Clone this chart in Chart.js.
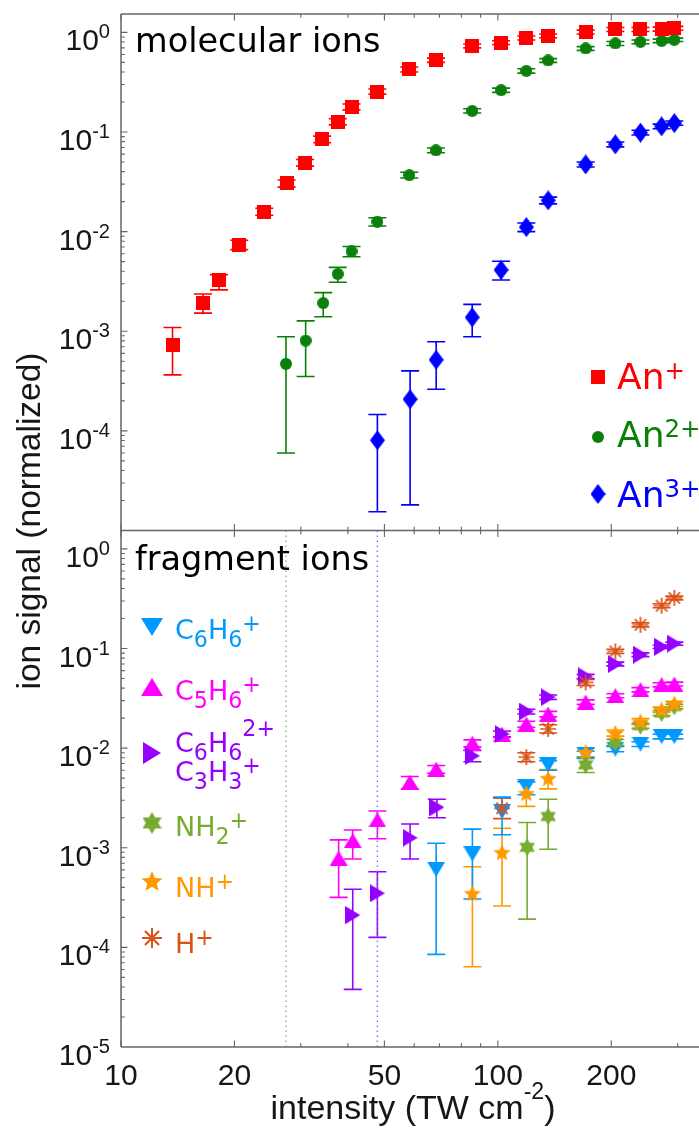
<!DOCTYPE html>
<html>
<head>
<meta charset="utf-8">
<script src="https://cdn.jsdelivr.net/npm/chart.js@4.4.1/dist/chart.umd.min.js"></script>
<style>
  html, body { margin: 0; padding: 0; background: #ffffff; }
  canvas { display: block; }
</style>
</head>
<body>
<canvas id="chart" width="699" height="1128"></canvas>
<script>
// ---- axis ticks ----
const xTickValues = [10, 20, 50, 100, 200];
const xTickLabels = ['10', '20', '50', '100', '200'];
const xMinorTicks = [30, 40, 60, 70, 80, 90, 300];
const yExponentsTop = [0, -1, -2, -3, -4];
const yExponentsBottom = [0, -1, -2, -3, -4, -5];

// ---- molecular ions: intensity (TW cm^-2), signal, error bounds ----
const anPlusX  = [13.7, 16.5, 18.2, 20.6, 24.0, 27.5, 30.8, 34.2, 37.6, 40.9, 47.9, 58.2, 68.5, 85.5, 102, 119, 136, 171, 205, 239, 272, 294];
const anPlusY  = [7.2e-4, 1.92e-3, 3.27e-3, 7.4e-3, 1.59e-2, 3.05e-2, 4.92e-2, 8.45e-2, 0.127, 0.179, 0.255, 0.425, 0.526, 0.733, 0.79, 0.88, 0.925, 1.01, 1.07, 1.07, 1.08, 1.10];
const anPlusLo = [3.65e-4, 1.52e-3, 2.6e-3, 6.6e-3, 1.46e-2, 2.8e-2, 4.55e-2, 7.8e-2, 0.118, 0.167, 0.24, 0.40, 0.50, 0.70, 0.755, 0.84, 0.885, 0.965, 1.02, 1.02, 1.03, 1.05];
const anPlusHi = [1.09e-3, 2.37e-3, 3.7e-3, 8.2e-3, 1.72e-2, 3.3e-2, 5.3e-2, 9.1e-2, 0.136, 0.191, 0.27, 0.45, 0.552, 0.766, 0.825, 0.92, 0.965, 1.055, 1.12, 1.12, 1.13, 1.15];

const an2X  = [27.4, 30.9, 34.4, 37.6, 40.9, 47.9, 58.2, 68.5, 85.5, 102, 119, 136, 171, 205, 239, 272, 294];
const an2Y  = [4.71e-4, 8.07e-4, 1.92e-3, 3.76e-3, 6.35e-3, 1.26e-2, 3.69e-2, 6.55e-2, 0.163, 0.263, 0.411, 0.523, 0.69, 0.775, 0.805, 0.823, 0.843];
const an2Lo = [6.0e-5, 3.51e-4, 1.40e-3, 3.1e-3, 5.6e-3, 1.14e-2, 3.45e-2, 6.2e-2, 0.155, 0.25, 0.39, 0.50, 0.66, 0.74, 0.77, 0.79, 0.81];
const an2Hi = [8.8e-4, 1.27e-3, 2.44e-3, 4.38e-3, 7.1e-3, 1.38e-2, 3.95e-2, 6.9e-2, 0.171, 0.276, 0.432, 0.546, 0.72, 0.81, 0.84, 0.856, 0.876];

const an3X  = [47.9, 58.5, 68.6, 85.5, 102, 119, 136, 171, 205, 239, 272, 294];
const an3Y  = [8.05e-5, 2.08e-4, 5.17e-4, 1.38e-3, 4.13e-3, 1.11e-2, 2.06e-2, 4.73e-2, 7.52e-2, 9.86e-2, 0.114, 0.123];
const an3Lo = [1.54e-5, 1.81e-5, 2.62e-4, 8.8e-4, 3.27e-3, 1.0e-2, 1.9e-2, 4.45e-2, 7.1e-2, 9.35e-2, 0.108, 0.117];
const an3Hi = [1.46e-4, 4.0e-4, 7.84e-4, 1.86e-3, 5.04e-3, 1.22e-2, 2.22e-2, 5.0e-2, 7.95e-2, 0.104, 0.12, 0.129];

// ---- fragment ions ----
const c6h6X  = [68.6, 85.6, 102.6, 119, 136, 171, 205, 239, 272, 294];
const c6h6Y  = [6.08e-4, 8.67e-4, 2.31e-3, 4.11e-3, 6.8e-3, 8.6e-3, 9.8e-3, 1.10e-2, 1.31e-2, 1.31e-2];
const c6h6Lo = [8.5e-5, 3.06e-4, 1.35e-3, 3.4e-3, 6.0e-3, 7.9e-3, 9.2e-3, 1.04e-2, 1.24e-2, 1.24e-2];
const c6h6Hi = [1.11e-3, 1.54e-3, 3.22e-3, 4.6e-3, 7.5e-3, 9.3e-3, 1.04e-2, 1.16e-2, 1.38e-2, 1.38e-2];

const c5h6X  = [37.8, 41.2, 47.9, 58.4, 68.6, 85.6, 102.6, 119, 136, 171, 205, 239, 272, 294];
const c5h6Y  = [7.84e-4, 1.18e-3, 1.90e-3, 4.55e-3, 6.15e-3, 1.12e-2, 1.38e-2, 1.74e-2, 2.2e-2, 2.9e-2, 3.36e-2, 3.86e-2, 4.33e-2, 4.4e-2];
const c5h6Lo = [3.18e-4, 7.71e-4, 1.23e-3, 3.9e-3, 5.6e-3, 1.03e-2, 1.28e-2, 1.62e-2, 2.06e-2, 2.75e-2, 3.2e-2, 3.67e-2, 4.12e-2, 4.2e-2];
const c5h6Hi = [1.20e-3, 1.51e-3, 2.34e-3, 5.2e-3, 6.7e-3, 1.21e-2, 1.48e-2, 1.86e-2, 2.34e-2, 3.05e-2, 3.52e-2, 4.05e-2, 4.54e-2, 4.6e-2];

const c6h6DiX  = [41.2, 47.9, 58.5, 68.9, 85.6, 102.6, 119, 136, 171, 205, 239, 272, 294];
const c6h6DiY  = [2.11e-4, 3.49e-4, 1.26e-3, 2.55e-3, 8.37e-3, 1.39e-2, 2.33e-2, 3.25e-2, 5.25e-2, 6.99e-2, 8.67e-2, 0.104, 0.112];
const c6h6DiLo = [3.79e-5, 1.26e-4, 7.71e-4, 2.0e-3, 7.3e-3, 1.3e-2, 2.2e-2, 3.08e-2, 5.0e-2, 6.7e-2, 8.3e-2, 0.10, 0.108];
const c6h6DiHi = [3.83e-4, 5.75e-4, 1.73e-3, 3.07e-3, 9.5e-3, 1.48e-2, 2.46e-2, 3.42e-2, 5.5e-2, 7.3e-2, 9.05e-2, 0.108, 0.116];

const nh2X  = [119.6, 136, 171, 205, 239, 272, 294];
const nh2Y  = [1.01e-3, 2.06e-3, 6.8e-3, 1.14e-2, 1.68e-2, 2.25e-2, 2.62e-2];
const nh2Lo = [1.92e-4, 9.66e-4, 5.7e-3, 1.06e-2, 1.58e-2, 2.12e-2, 2.48e-2];
const nh2Hi = [1.79e-3, 3.07e-3, 8.1e-3, 1.22e-2, 1.78e-2, 2.38e-2, 2.76e-2];

const nhX  = [85.6, 102.6, 119, 136, 171, 205, 239, 272, 294];
const nhY  = [3.49e-4, 9.0e-4, 3.53e-3, 4.99e-3, 9.12e-3, 1.42e-2, 1.85e-2, 2.43e-2, 2.79e-2];
const nhLo = [6.38e-5, 2.6e-4, 2.6e-3, 3.9e-3, 8.2e-3, 1.32e-2, 1.72e-2, 2.28e-2, 2.62e-2];
const nhHi = [6.45e-4, 1.57e-3, 4.6e-3, 6.1e-3, 1.0e-2, 1.52e-2, 1.98e-2, 2.58e-2, 2.96e-2];

const hX  = [102.6, 119, 136, 171, 205, 239, 272, 294];
const hY  = [2.49e-3, 8.12e-3, 1.56e-2, 4.57e-2, 9.35e-2, 0.173, 0.269, 0.322];
const hLo = [1.96e-3, 7.3e-3, 1.42e-2, 4.25e-2, 8.9e-2, 0.165, 0.257, 0.308];
const hHi = [3.15e-3, 9.0e-3, 1.72e-2, 4.9e-2, 9.8e-2, 0.181, 0.281, 0.336];

// onset intensities of An2+ and An3+ (dotted guides in the fragment panel)
const onsetX = [27.4, 47.9];

// ---- styling ----
const SANS = '"Liberation Sans", Arial, sans-serif';
const LABEL = '"DejaVu Sans", sans-serif';
const FRAME = '#666666';
const COL = {
  anPlus: '#ff0000', an2: '#0a800a', an3: '#0000ff',
  c6h6: '#0099ff', c5h6: '#ff00ff', c6h6Di: '#9500ff',
  nh2: '#77ac30', nh: '#ff9900', h: '#d95319'
};

// marker glyphs rendered to small canvases, used as point styles and in the legends
function markerCanvas(kind, color, k) {
  const dims = {
    square: [14, 14], circle: [12, 12], diamond: [15, 20],
    triDown: [18, 15], triUp: [18, 15], triRight: [15, 18],
    hexagram: [16, 18], pentagram: [18, 18], asterisk: [18, 18]
  };
  const w = Math.round(dims[kind][0] * k), h = Math.round(dims[kind][1] * k);
  const c = document.createElement('canvas');
  c.width = w; c.height = h;
  const g = c.getContext('2d');
  g.fillStyle = color; g.strokeStyle = color;
  const cx = w / 2, cy = h / 2;
  g.beginPath();
  if (kind === 'square') g.rect(0, 0, w, h);
  else if (kind === 'circle') g.arc(cx, cy, w / 2, 0, Math.PI * 2);
  else if (kind === 'diamond') { g.moveTo(cx, 0); g.lineTo(w, cy); g.lineTo(cx, h); g.lineTo(0, cy); g.closePath(); }
  else if (kind === 'triDown') { g.moveTo(0, 0); g.lineTo(w, 0); g.lineTo(cx, h); g.closePath(); }
  else if (kind === 'triUp') { g.moveTo(cx, 0); g.lineTo(w, h); g.lineTo(0, h); g.closePath(); }
  else if (kind === 'triRight') { g.moveTo(0, 0); g.lineTo(w, cy); g.lineTo(0, h); g.closePath(); }
  else if (kind === 'hexagram') {
    const R = h / 2;
    for (let t = 0; t < 2; t++) {
      for (let i = 0; i < 3; i++) {
        const a = -Math.PI / 2 + t * Math.PI + i * 2 * Math.PI / 3;
        const px = cx + R * Math.cos(a), py = cy + R * Math.sin(a);
        if (i === 0) g.moveTo(px, py); else g.lineTo(px, py);
      }
      g.closePath();
    }
  } else if (kind === 'pentagram') {
    const R = w / 2, r = R * 0.45, oy = cy + R * 0.08;
    for (let i = 0; i < 10; i++) {
      const a = -Math.PI / 2 + i * Math.PI / 5;
      const rr = i % 2 === 0 ? R : r;
      const px = cx + rr * Math.cos(a), py = oy + rr * Math.sin(a);
      if (i === 0) g.moveTo(px, py); else g.lineTo(px, py);
    }
    g.closePath();
  } else if (kind === 'asterisk') {
    const R = w / 2 - 1;
    g.lineWidth = 1.7 * k;
    for (let i = 0; i < 4; i++) {
      const a = i * Math.PI / 4;
      g.moveTo(cx - R * Math.cos(a), cy - R * Math.sin(a));
      g.lineTo(cx + R * Math.cos(a), cy + R * Math.sin(a));
    }
    g.stroke();
    return c;
  }
  g.fill();
  return c;
}

function series(xs, ys) { return xs.map((x, i) => ({ x: x, y: ys[i] })); }

function pointSet(label, xs, ys, lo, hi, color, kind, axis) {
  return {
    label: label,
    data: series(xs, ys),
    errLo: lo, errHi: hi, errColor: color,
    yAxisID: axis,
    showLine: false,
    pointStyle: markerCanvas(kind, color, 1),
    pointRadius: 6,
    pointHoverRadius: 6,
    borderWidth: 0,
    backgroundColor: color,
    borderColor: color
  };
}

function guideLine(x, color) {
  return {
    label: '',
    data: [{ x: x, y: 1e-5 }, { x: x, y: 1.53 }],
    yAxisID: 'yBot',
    showLine: true,
    pointRadius: 0,
    borderColor: color,
    borderWidth: 1.4,
    borderDash: [1.5, 3.5],
    fill: false
  };
}

const datasets = [
  pointSet('An+', anPlusX, anPlusY, anPlusLo, anPlusHi, COL.anPlus, 'square', 'yTop'),
  pointSet('An2+', an2X, an2Y, an2Lo, an2Hi, COL.an2, 'circle', 'yTop'),
  pointSet('An3+', an3X, an3Y, an3Lo, an3Hi, COL.an3, 'diamond', 'yTop'),
  pointSet('H+', hX, hY, hLo, hHi, COL.h, 'asterisk', 'yBot'),
  pointSet('NH+', nhX, nhY, nhLo, nhHi, COL.nh, 'pentagram', 'yBot'),
  pointSet('NH2+', nh2X, nh2Y, nh2Lo, nh2Hi, COL.nh2, 'hexagram', 'yBot'),
  pointSet('C6H6+', c6h6X, c6h6Y, c6h6Lo, c6h6Hi, COL.c6h6, 'triDown', 'yBot'),
  pointSet('C6H6 2+ / C3H3+', c6h6DiX, c6h6DiY, c6h6DiLo, c6h6DiHi, COL.c6h6Di, 'triRight', 'yBot'),
  pointSet('C5H6+', c5h6X, c5h6Y, c5h6Lo, c5h6Hi, COL.c5h6, 'triUp', 'yBot'),
  guideLine(onsetX[0], '#80bd80'),
  guideLine(onsetX[1], '#7878f0')
];

// text made of runs with optional sub/superscript offsets
function drawRich(ctx, x, y, parts, size, color, family) {
  let cx = x;
  ctx.fillStyle = color;
  ctx.textAlign = 'left';
  ctx.textBaseline = 'alphabetic';
  for (const p of parts) {
    const fs = size * (p.s || 1);
    ctx.font = fs + 'px ' + family;
    ctx.fillText(p.t, cx, y + (p.dy || 0));
    cx += ctx.measureText(p.t).width;
  }
  return cx;
}
function richWidth(ctx, parts, size, family) {
  let w = 0;
  for (const p of parts) {
    ctx.font = size * (p.s || 1) + 'px ' + family;
    w += ctx.measureText(p.t).width;
  }
  return w;
}

const SUB = { s: 0.82, dy: 8 };
const SUP = { s: 0.82, dy: -8 };
const SUP2 = { s: 0.82, dy: -16 };
const sub = t => Object.assign({ t: t }, SUB);
const sup = t => Object.assign({ t: t }, SUP);

const legendTop = [
  { kind: 'square', color: COL.anPlus, y: 377, base: 389, parts: [{ t: 'An' }, { t: '+', s: 0.68, dy: -10 }] },
  { kind: 'circle', color: COL.an2, y: 437, base: 447, parts: [{ t: 'An' }, { t: '2+', s: 0.68, dy: -10 }] },
  { kind: 'diamond', color: COL.an3, y: 494, base: 507, parts: [{ t: 'An' }, { t: '3+', s: 0.68, dy: -10 }] }
];
const legendBottom = [
  { kind: 'triDown', color: COL.c6h6, y: 627, lines: [{ base: 639, parts: [{ t: 'C' }, sub('6'), { t: 'H' }, sub('6'), sup('+')] }] },
  { kind: 'triUp', color: COL.c5h6, y: 687, lines: [{ base: 700, parts: [{ t: 'C' }, sub('5'), { t: 'H' }, sub('6'), sup('+')] }] },
  { kind: 'triRight', color: COL.c6h6Di, y: 753, lines: [
      { base: 752, parts: [{ t: 'C' }, sub('6'), { t: 'H' }, sub('6'), Object.assign({ t: '2+' }, SUP2)] },
      { base: 781, parts: [{ t: 'C' }, sub('3'), { t: 'H' }, sub('3'), sup('+')] }] },
  { kind: 'hexagram', color: COL.nh2, y: 823, lines: [{ base: 836, parts: [{ t: 'NH' }, sub('2'), sup('+')] }] },
  { kind: 'pentagram', color: COL.nh, y: 881, lines: [{ base: 897, parts: [{ t: 'NH' }, sup('+')] }] },
  { kind: 'asterisk', color: COL.h, y: 938, lines: [{ base: 953, parts: [{ t: 'H' }, sup('+')] }] }
];

const errorBars = {
  id: 'errorBars',
  beforeDatasetsDraw(chart) {
    const ctx = chart.ctx, xs = chart.scales.x;
    chart.data.datasets.forEach(ds => {
      if (!ds.errLo) return;
      const ys = chart.scales[ds.yAxisID];
      ctx.save();
      ctx.strokeStyle = ds.errColor;
      ctx.lineWidth = 1.6;
      ds.data.forEach((pt, i) => {
        const px = xs.getPixelForValue(pt.x);
        const pl = ys.getPixelForValue(ds.errLo[i]);
        const ph = ys.getPixelForValue(ds.errHi[i]);
        ctx.beginPath();
        ctx.moveTo(px, pl); ctx.lineTo(px, ph);
        ctx.moveTo(px - 9, pl); ctx.lineTo(px + 9, pl);
        ctx.moveTo(px - 9, ph); ctx.lineTo(px + 9, ph);
        ctx.stroke();
      });
      ctx.restore();
    });
  }
};

const frameAndText = {
  id: 'frameAndText',
  afterDraw(chart) {
    const ctx = chart.ctx;
    const xs = chart.scales.x, yt = chart.scales.yTop, yb = chart.scales.yBot;
    const left = xs.left, right = chart.width;
    const top = yt.top, mid = yt.bottom, bottom = yb.bottom;
    ctx.save();

    // frame
    ctx.strokeStyle = FRAME;
    ctx.lineWidth = 1.5;
    ctx.beginPath();
    ctx.moveTo(left, top); ctx.lineTo(left, bottom);
    ctx.moveTo(left, top); ctx.lineTo(right, top);
    ctx.moveTo(left, mid); ctx.lineTo(right, mid);
    ctx.moveTo(left, bottom); ctx.lineTo(right, bottom);
    ctx.stroke();

    // x ticks (inside each panel)
    ctx.lineWidth = 1.1;
    ctx.beginPath();
    const xTick = (v, len) => {
      const px = xs.getPixelForValue(v);
      ctx.moveTo(px, top); ctx.lineTo(px, top + len);
      ctx.moveTo(px, mid - len); ctx.lineTo(px, mid + len);
      ctx.moveTo(px, bottom); ctx.lineTo(px, bottom - len);
    };
    xTickValues.forEach(v => xTick(v, 6.5));
    xMinorTicks.forEach(v => xTick(v, 3.8));
    // y ticks
    [yt, yb].forEach(ys => {
      for (let e = -5; e <= 0; e++) {
        const d = Math.pow(10, e);
        const pm = ys.getPixelForValue(d);
        if (pm > ys.top + 1 && pm < ys.bottom - 1) { ctx.moveTo(left, pm); ctx.lineTo(left + 6.5, pm); }
        for (let m = 2; m <= 9; m++) {
          const v = m * d;
          if (v >= ys.max) break;
          const p = ys.getPixelForValue(v);
          ctx.moveTo(left, p); ctx.lineTo(left + 3.8, p);
        }
      }
    });
    ctx.stroke();

    // y tick labels 10^n
    const yLabel = (ys, exps) => {
      exps.forEach(e => {
        const p = ys.getPixelForValue(Math.pow(10, e));
        const parts = [{ t: '10', dy: 0 }, { t: String(e), s: 0.67, dy: -12 }];
        const w = richWidth(ctx, parts, 30, SANS);
        drawRich(ctx, 110 - w, p + 18, parts, 30, '#161616', SANS);
      });
    };
    yLabel(yt, yExponentsTop);
    yLabel(yb, yExponentsBottom);

    // x tick labels
    ctx.font = '30px ' + SANS;
    ctx.fillStyle = '#161616';
    ctx.textAlign = 'center';
    ctx.textBaseline = 'alphabetic';
    xTickValues.forEach((v, i) => ctx.fillText(xTickLabels[i], xs.getPixelForValue(v), 1085));

    // axis titles
    const xt = [{ t: 'intensity (TW cm' }, { t: '-2', s: 0.68, dy: -20 }, { t: ')' }];
    const xtw = richWidth(ctx, xt, 34, SANS);
    drawRich(ctx, 413 - xtw / 2, 1119, xt, 34, '#161616', SANS);
    ctx.save();
    ctx.translate(40, 521);
    ctx.rotate(-Math.PI / 2);
    ctx.font = '33.5px ' + SANS;
    ctx.textAlign = 'center';
    ctx.fillStyle = '#161616';
    ctx.fillText('ion signal (normalized)', 0, 0);
    ctx.restore();

    // panel titles
    drawRich(ctx, 135, 52, [{ t: 'molecular ions' }], 33.5, '#000000', LABEL);
    drawRich(ctx, 135, 570, [{ t: 'fragment ions' }], 33.5, '#000000', LABEL);

    // legends
    legendTop.forEach(it => {
      const m = markerCanvas(it.kind, it.color, 1);
      ctx.drawImage(m, 598 - m.width / 2, it.y - m.height / 2);
      drawRich(ctx, 617, it.base, it.parts, 36, it.color, LABEL);
    });
    legendBottom.forEach(it => {
      const m = markerCanvas(it.kind, it.color, 1.2);
      ctx.drawImage(m, 152 - m.width / 2, it.y - m.height / 2);
      it.lines.forEach(l => drawRich(ctx, 175, l.base, l.parts, 27, it.color, LABEL));
    });
    ctx.restore();
  }
};

const hidden = {
  ticks: { display: false },
  grid: { display: false, drawTicks: false },
  border: { display: false },
  title: { display: false }
};

// stacked left axes: the later-declared scale is placed on top
new Chart(document.getElementById('chart'), {
  type: 'scatter',
  data: { datasets: datasets },
  options: {
    responsive: false,
    animation: false,
    devicePixelRatio: 1,
    layout: { padding: { left: 121, right: 0, top: 14, bottom: 81 } },
    plugins: { legend: { display: false }, tooltip: { enabled: false } },
    scales: {
      x: Object.assign({ type: 'logarithmic', min: 10, max: 329.5, bounds: 'data' }, hidden),
      yBot: Object.assign({ type: 'logarithmic', position: 'left', stack: 'panels', stackWeight: 1, min: 1e-5, max: 1.53, bounds: 'data' }, hidden),
      yTop: Object.assign({ type: 'logarithmic', position: 'left', stack: 'panels', stackWeight: 1, min: 1e-5, max: 1.53, bounds: 'data' }, hidden)
    }
  },
  plugins: [errorBars, frameAndText]
});
</script>
</body>
</html>
